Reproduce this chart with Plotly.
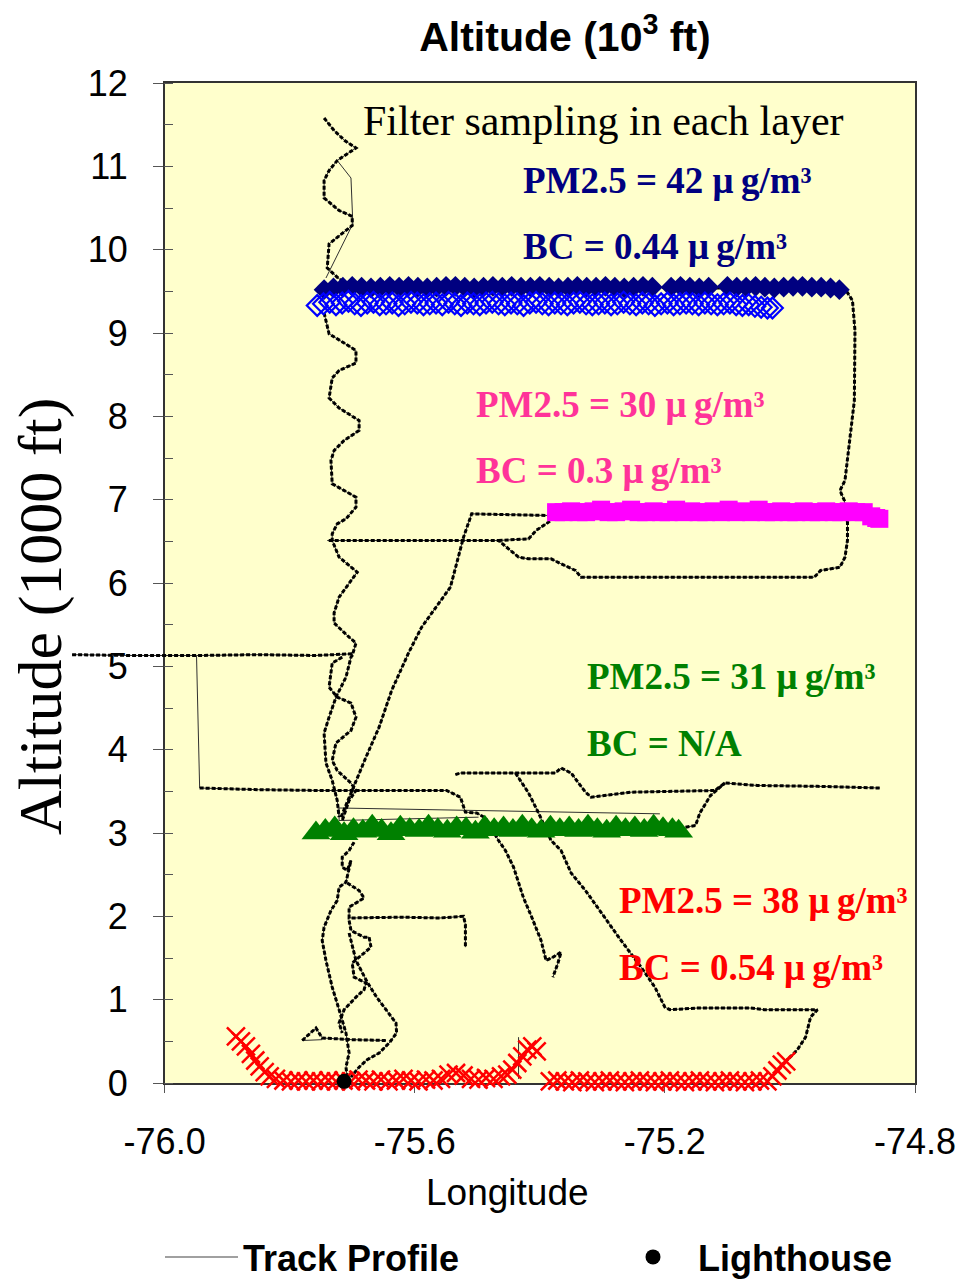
import plotly.graph_objects as go

# ---------------- data ----------------
# Flight track (longitude, altitude in 1000 ft); None separates track pieces
TRACK_LON = [
    -75.745, -75.729, -75.712, -75.694, -75.724, -75.737, -75.745, -75.745, -75.721, -75.700, -75.700, -75.737,
    -75.740, -75.721, -75.702, -74.912, -74.900, -74.896, -74.897, -74.905, -74.912, -74.920, -74.913, -74.908,
    -74.908, -74.912, -74.920, -74.951, -74.961, -75.334, -75.343, -75.366, -75.382, -75.418, -75.434, -75.466,
    -75.740, None,
    -75.466, -75.418, -75.406, -75.386, -75.370, None,
    -75.745, -75.737, -75.713, -75.694, -75.694, -75.721, -75.732, -75.737, -75.721, -75.689, -75.689, -75.713,
    -75.729, -75.734, -75.732, -75.713, -75.694, -75.694, -75.710, -75.724, -75.732, -75.732, -75.721, -75.692,
    -75.702, -75.721, -75.729, -75.729, -75.705, -75.694, -75.700, -75.702, -75.710, -75.726, -75.737, -75.745,
    -75.742, -75.732, -75.724, -75.721, None,
    -75.716, -75.732, -75.737, -75.724, -75.702, -75.694, -75.702, -75.726, -75.732, -75.724, -75.702, -75.694,
    -75.705, -75.716, None,
    -76.148, -76.050, -75.949, -75.850, -75.760, -75.700, None,
    -75.944, -75.850, -75.750, -75.650, -75.549, -75.527, -75.519, -75.501, -75.487, -75.466, -75.455, -75.442,
    -75.426, -75.414, -75.398, -75.390, -75.379, -75.366, -75.371, -75.379, None,
    -75.535, -75.527, -75.439, -75.375, -75.366, -75.350, -75.327, -75.318, -75.254, -75.120, -75.104, -75.052,
    -74.956, -74.856, None,
    -75.439, -75.418, -75.402, -75.382, -75.366, -75.350, -75.327, -75.307, -75.270, -75.238, -75.216, -75.200,
    -75.192, -75.147, -75.063, -75.041, -74.956, -74.967, -74.975, -74.988, -75.001, -75.017, None,
    -75.167, -75.151, -75.144, -75.127, -75.104, None,
    -75.718, -75.702, -75.694, -75.678, -75.657, -75.637, -75.610, -75.589, -75.543, -75.522, -75.509, -75.386, None,
    -75.697, -75.705, -75.716, -75.716, -75.708, -75.702, -75.710, -75.721, -75.724, -75.734, -75.745, -75.748,
    -75.742, -75.732, -75.721, -75.710, -75.705, -75.710, -75.708, None,
    -75.708, -75.689, -75.681, -75.705, -75.705, -75.620, -75.560, -75.522, -75.519, -75.519, None,
    -75.705, -75.702, -75.681, -75.673, -75.670, -75.689, -75.700, -75.697, -75.678, -75.681, -75.694, -75.713,
    -75.721, -75.716, None,
    -75.705, -75.694, -75.676, -75.661, -75.646, -75.630, -75.629, -75.641, -75.657, -75.676, -75.689, -75.702, None,
    -75.780, -75.758, -75.748, -75.700, -75.646,
]
TRACK_ALT = [
    11.58, 11.43, 11.31, 11.22, 11.07, 10.95, 10.83, 10.62, 10.47, 10.40, 10.29, 10.07,
    9.78, 9.65, 9.57, 9.53, 9.39, 9.03, 8.19, 7.71, 7.23, 7.11, 6.99, 6.73,
    6.51, 6.31, 6.19, 6.15, 6.07, 6.07, 6.15, 6.23, 6.29, 6.29, 6.31, 6.51,
    6.51, None,
    6.51, 6.53, 6.63, 6.73, 6.83, None,
    9.24, 8.99, 8.88, 8.79, 8.64, 8.55, 8.46, 8.22, 8.10, 7.95, 7.83, 7.71,
    7.59, 7.47, 7.19, 7.11, 7.03, 6.91, 6.77, 6.71, 6.59, 6.51, 6.31, 6.13,
    6.03, 5.83, 5.64, 5.52, 5.35, 5.28, 5.13, 5.11, 4.87, 4.63, 4.39, 4.20,
    3.84, 3.63, 3.39, 3.19, None,
    5.11, 5.04, 4.75, 4.63, 4.56, 4.39, 4.23, 4.08, 3.87, 3.75, 3.60, 3.51,
    3.39, 3.15, None,
    5.14, 5.13, 5.13, 5.14, 5.13, 5.15, None,
    3.54, 3.52, 3.51, 3.51, 3.51, 3.43, 3.25, 3.24, 3.18, 2.91, 2.79, 2.59,
    2.22, 2.01, 1.71, 1.47, 1.51, 1.57, 1.44, 1.27, None,
    3.70, 3.72, 3.72, 3.72, 3.78, 3.72, 3.49, 3.43, 3.49, 3.51, 3.60, 3.57,
    3.56, 3.54, None,
    3.72, 3.48, 3.24, 2.91, 2.79, 2.52, 2.31, 2.10, 1.71, 1.39, 1.15, 0.91,
    0.88, 0.90, 0.90, 0.88, 0.88, 0.79, 0.55, 0.40, 0.30, 0.19, None,
    3.07, 3.09, 3.24, 3.45, 3.60, None,
    3.19, 3.48, 3.63, 3.91, 4.27, 4.71, 5.16, 5.47, 5.95, 6.55, 6.83, 6.81, None,
    2.89, 2.79, 2.71, 2.59, 2.55, 2.67, 2.41, 2.35, 2.19, 2.07, 1.87, 1.71,
    1.47, 1.15, 0.88, 0.60, 0.36, 0.19, 0.07, None,
    2.40, 2.31, 2.22, 2.11, 1.98, 1.99, 1.98, 2.00, 1.90, 1.63, None,
    1.95, 1.83, 1.75, 1.75, 1.63, 1.51, 1.44, 1.27, 1.20, 1.12, 1.03, 0.88,
    0.72, 0.60, None,
    1.80, 1.47, 1.21, 1.03, 0.88, 0.72, 0.60, 0.48, 0.36, 0.28, 0.19, 0.07, None,
    0.51, 0.66, 0.54, 0.52, 0.51,
]
# fast transitions drawn as plain thin lines
THIN_LON = [-75.724, -75.702, -75.699, -75.742, None, -75.949, -75.944, None,
            -75.721, -75.208, None, -75.721, -75.498, None, -75.721, -75.721, None,
            -75.434, -75.434, None, -75.780, -75.748]
THIN_ALT = [11.07, 10.86, 10.31, 9.66, None, 5.13, 3.54, None,
            3.30, 3.23, None, 3.15, 3.19, None, 3.30, 3.15, None,
            0.55, 0.05, None, 0.51, 0.52]

# PM2.5 / BC filter sampling legs
PM_HI_LON = [-75.745, -75.730, -75.715, -75.700, -75.685, -75.670, -75.655, -75.640, -75.625, -75.610,
             -75.595, -75.580, -75.565, -75.550, -75.535, -75.520, -75.505, -75.490, -75.475, -75.460,
             -75.445, -75.430, -75.415, -75.400, -75.385, -75.370, -75.355, -75.340, -75.325, -75.310,
             -75.295, -75.280, -75.265, -75.250, -75.235, -75.220, -75.190, -75.175, -75.160, -75.145,
             -75.130, -75.100, -75.085, -75.070, -75.055, -75.040, -75.025, -75.010, -74.995, -74.980,
             -74.965, -74.950, -74.935, -74.921]
PM_HI_ALT = [9.52, 9.54, 9.55, 9.56, 9.55, 9.54, 9.55, 9.56, 9.55, 9.56,
             9.55, 9.54, 9.55, 9.56, 9.56, 9.55, 9.54, 9.55, 9.56, 9.55,
             9.56, 9.55, 9.55, 9.56, 9.55, 9.54, 9.55, 9.56, 9.55, 9.55,
             9.56, 9.55, 9.54, 9.55, 9.56, 9.55, 9.55, 9.56, 9.55, 9.54,
             9.55, 9.56, 9.55, 9.55, 9.56, 9.55, 9.54, 9.55, 9.56, 9.56,
             9.55, 9.55, 9.54, 9.52]

BC_HI_LON = [-75.756, -75.746, -75.736, -75.726, -75.716, -75.706, -75.696, -75.686, -75.676, -75.666,
             -75.656, -75.646, -75.636, -75.626, -75.616, -75.606, -75.596, -75.586, -75.576, -75.566,
             -75.556, -75.546, -75.536, -75.526, -75.516, -75.506, -75.496, -75.486, -75.476, -75.466,
             -75.456, -75.446, -75.436, -75.426, -75.416, -75.406, -75.396, -75.386, -75.376, -75.366,
             -75.356, -75.346, -75.336, -75.326, -75.316, -75.306, -75.296, -75.286, -75.276, -75.266,
             -75.256, -75.246, -75.236, -75.226, -75.216, -75.206, -75.196, -75.186, -75.176, -75.166,
             -75.156, -75.146, -75.136, -75.126, -75.116, -75.106, -75.096, -75.086, -75.076, -75.066,
             -75.056, -75.046, -75.036, -75.028]
BC_HI_ALT = [9.33, 9.35, 9.37, 9.34, 9.36, 9.38, 9.35, 9.33, 9.36, 9.37,
             9.34, 9.35, 9.36, 9.33, 9.35, 9.37, 9.36, 9.34, 9.35, 9.36,
             9.34, 9.37, 9.35, 9.33, 9.36, 9.35, 9.34, 9.36, 9.37, 9.35,
             9.34, 9.36, 9.35, 9.33, 9.36, 9.37, 9.35, 9.34, 9.36, 9.35,
             9.34, 9.36, 9.37, 9.35, 9.34, 9.35, 9.36, 9.34, 9.35, 9.37,
             9.35, 9.34, 9.36, 9.35, 9.33, 9.35, 9.36, 9.34, 9.35, 9.36,
             9.35, 9.34, 9.36, 9.35, 9.34, 9.35, 9.36, 9.34, 9.33, 9.34,
             9.32, 9.31, 9.30, 9.30]

PM_MID_LON = [-75.374, -75.362, -75.350, -75.338, -75.326, -75.314, -75.302, -75.290, -75.278, -75.266,
              -75.254, -75.242, -75.230, -75.218, -75.206, -75.194, -75.182, -75.170, -75.158, -75.146,
              -75.134, -75.122, -75.110, -75.098, -75.086, -75.074, -75.062, -75.050, -75.038, -75.026,
              -75.014, -75.002, -74.990, -74.978, -74.966, -74.954, -74.942, -74.930, -74.918, -74.906,
              -74.894, -74.882, -74.870, -74.862, -74.857]
PM_MID_ALT = [6.85, 6.85, 6.86, 6.85, 6.85, 6.86, 6.88, 6.85, 6.85, 6.86,
              6.88, 6.85, 6.85, 6.86, 6.85, 6.85, 6.88, 6.85, 6.86, 6.85,
              6.85, 6.86, 6.85, 6.88, 6.85, 6.86, 6.85, 6.88, 6.85, 6.85,
              6.86, 6.85, 6.85, 6.86, 6.85, 6.85, 6.86, 6.85, 6.85, 6.86,
              6.85, 6.85, 6.80, 6.78, 6.77]

PM_LOW_LON = [-75.758, -75.743, -75.728, -75.713, -75.698, -75.683, -75.668, -75.653, -75.638, -75.623,
              -75.608, -75.593, -75.578, -75.563, -75.548, -75.533, -75.518, -75.503, -75.488, -75.473,
              -75.458, -75.443, -75.428, -75.413, -75.398, -75.383, -75.368, -75.353, -75.338, -75.323,
              -75.308, -75.293, -75.278, -75.263, -75.248, -75.233, -75.218, -75.203, -75.188, -75.178]
PM_LOW_ALT = [3.00, 3.03, 3.06, 2.99, 3.04, 3.02, 3.08, 3.03, 2.99, 3.07,
              3.04, 3.03, 3.08, 3.04, 3.02, 3.06, 3.05, 3.01, 3.07, 3.04,
              3.06, 3.03, 3.08, 3.04, 3.02, 3.07, 3.04, 3.06, 3.03, 3.08,
              3.04, 3.02, 3.07, 3.04, 3.06, 3.03, 3.08, 3.05, 3.04, 3.02]

PM_SFC_LON = [-75.886, -75.878, -75.870, -75.862, -75.855, -75.848, -75.840, -75.832, -75.822, -75.810,
              -75.798, -75.786, -75.774, -75.762, -75.750, -75.738, -75.726, -75.714, -75.702, -75.690,
              -75.678, -75.666, -75.654, -75.642, -75.630, -75.618, -75.606, -75.594, -75.582, -75.570,
              -75.558, -75.546, -75.534, -75.522, -75.510, -75.498, -75.486, -75.474, -75.462, -75.452,
              -75.444, -75.436, -75.428, -75.420, -75.412, -75.405,
              None,
              -75.384, -75.372, -75.360, -75.348, -75.336, -75.324, -75.312, -75.300, -75.288, -75.276,
              -75.264, -75.252, -75.240, -75.228, -75.216, -75.204, -75.192, -75.180, -75.168, -75.156,
              -75.144, -75.132, -75.120, -75.108, -75.096, -75.084, -75.072, -75.060, -75.048, -75.036,
              -75.028, -75.020, -75.013, -75.006]
PM_SFC_ALT = [0.56, 0.50, 0.44, 0.35, 0.27, 0.20, 0.13, 0.08, 0.05, 0.03,
              0.02, 0.03, 0.02, 0.03, 0.02, 0.03, 0.02, 0.03, 0.02, 0.04,
              0.03, 0.02, 0.04, 0.02, 0.03, 0.05, 0.03, 0.02, 0.04, 0.03,
              0.05, 0.10, 0.12, 0.09, 0.05, 0.04, 0.06, 0.05, 0.08, 0.10,
              0.16, 0.24, 0.32, 0.40, 0.44, 0.38,
              None,
              0.02, 0.03, 0.02, 0.01, 0.03, 0.02, 0.01, 0.02, 0.03, 0.02,
              0.01, 0.02, 0.03, 0.02, 0.01, 0.02, 0.03, 0.02, 0.01, 0.02,
              0.03, 0.02, 0.01, 0.02, 0.03, 0.02, 0.01, 0.02, 0.03, 0.02,
              0.08, 0.15, 0.22, 0.26]

LIGHTHOUSE_LON = [-75.713]
LIGHTHOUSE_ALT = [0.02]

X_TICK_VALS = [-76.0, -75.6, -75.2, -74.8]
X_TICK_TEXT = ["-76.0", "-75.6", "-75.2", "-74.8"]

# layer labels: (lon, alt, text, colour)
LABELS = [
    (-75.4295, 10.83, "PM2.5 = 42 \u03bc\u2009g/m\u00b3", "#000080"),
    (-75.4295, 10.04, "BC = 0.44 \u03bc\u2009g/m\u00b3", "#000080"),
    (-75.506, 8.14, "PM2.5 = 30 \u03bc\u2009g/m\u00b3", "#FF3399"),
    (-75.506, 7.35, "BC = 0.3 \u03bc\u2009g/m\u00b3", "#FF3399"),
    (-75.3275, 4.88, "PM2.5 = 31 \u03bc\u2009g/m\u00b3", "#008000"),
    (-75.3275, 4.08, "BC = N/A", "#008000"),
    (-75.2765, 2.19, "PM2.5 = 38 \u03bc\u2009g/m\u00b3", "#FF0000"),
    (-75.2765, 1.39, "BC = 0.54 \u03bc\u2009g/m\u00b3", "#FF0000"),
]

SANS = "Liberation Sans, Arial, sans-serif"
SERIF = "Liberation Serif, Times New Roman, serif"

fig = go.Figure()

# track (thin underlying line + dotted heavy overlay)
fig.add_trace(go.Scatter(x=THIN_LON, y=THIN_ALT, xaxis="x2", yaxis="y", mode="lines",
                         line=dict(color="#303030", width=1), showlegend=False, hoverinfo="skip"))
fig.add_trace(go.Scatter(x=TRACK_LON, y=TRACK_ALT, xaxis="x2", yaxis="y", mode="lines",
                         line=dict(color="#303030", width=1), showlegend=False, hoverinfo="skip"))
fig.add_trace(go.Scatter(x=TRACK_LON, y=TRACK_ALT, xaxis="x2", yaxis="y", mode="lines",
                         line=dict(color="black", width=3, dash="4px,2px"), showlegend=False,
                         hoverinfo="skip"))

# sampling legs
fig.add_trace(go.Scatter(x=PM_SFC_LON, y=PM_SFC_ALT, xaxis="x2", yaxis="y", mode="markers",
                         marker=dict(symbol="x-thin-open", size=18, color="#FF0000",
                                     line=dict(color="#FF0000", width=2.5)),
                         cliponaxis=False, showlegend=False))
fig.add_trace(go.Scatter(x=PM_LOW_LON, y=PM_LOW_ALT, xaxis="x2", yaxis="y", mode="markers",
                         marker=dict(symbol="triangle-up", size=25, color="#008000",
                                     line=dict(width=0)),
                         showlegend=False))
fig.add_trace(go.Scatter(x=PM_MID_LON, y=PM_MID_ALT, xaxis="x2", yaxis="y", mode="markers",
                         marker=dict(symbol="square", size=18, color="#FF00FF", line=dict(width=0)),
                         showlegend=False))
fig.add_trace(go.Scatter(x=PM_HI_LON, y=PM_HI_ALT, xaxis="x2", yaxis="y", mode="markers",
                         marker=dict(symbol="diamond", size=16, color="#000080", line=dict(width=0)),
                         showlegend=False))
fig.add_trace(go.Scatter(x=BC_HI_LON, y=BC_HI_ALT, xaxis="x2", yaxis="y", mode="markers",
                         marker=dict(symbol="diamond-open", size=16, color="#0000FF",
                                     line=dict(color="#0000FF", width=2.2)),
                         showlegend=False))

# legend entries (two separate legends, as in the original layout)
fig.add_trace(go.Scatter(x=[None], y=[None], xaxis="x2", yaxis="y", mode="lines",
                         line=dict(color="#808080", width=1.5), name="Track Profile", legend="legend"))
fig.add_trace(go.Scatter(x=LIGHTHOUSE_LON, y=LIGHTHOUSE_ALT, xaxis="x2", yaxis="y", mode="markers",
                         marker=dict(symbol="circle", size=15, color="black"),
                         cliponaxis=False, name="Lighthouse", legend="legend2"))

annotations = [dict(x=lon, y=alt, xref="x", yref="y", text="<b>%s</b>" % txt, showarrow=False,
                    xanchor="left", yanchor="middle",
                    font=dict(family=SERIF, size=37, color=col))
               for lon, alt, txt, col in LABELS]
annotations.append(dict(x=-75.686, y=11.55, xref="x", yref="y", text="Filter sampling in each layer",
                        showarrow=False, xanchor="left", yanchor="middle",
                        font=dict(family=SERIF, size=42, color="black")))
# y-axis title
annotations.append(dict(x=-20 / 858, y=466 / 1000, xref="paper", yref="paper", text="Altitude (1000 ft)",
                        textangle=-90, showarrow=False, xanchor="center", yanchor="middle",
                        font=dict(family=SERIF, size=62, color="black")))
# x-axis title
annotations.append(dict(x=449 / 858, y=-109 / 1000, xref="paper", yref="paper", text="Longitude",
                        showarrow=False, xanchor="center", yanchor="middle",
                        font=dict(family=SANS, size=37, color="black")))

legend_font = dict(family=SANS, size=36, color="black", weight="bold")

fig.update_layout(
    width=968, height=1283,
    margin=dict(l=60, r=50, t=83, b=200, pad=0),
    paper_bgcolor="white",
    plot_bgcolor="rgba(0,0,0,0)",
    title=dict(text="<b>Altitude (10<sup>3</sup> ft)</b>", x=565 / 968, xref="container", xanchor="center",
               y=1 - 37 / 1283, yref="container", yanchor="middle",
               font=dict(family=SANS, size=41, color="black")),
    xaxis=dict(domain=[105 / 858, 1], range=[-76.0, -74.8], anchor="y",
               tickvals=X_TICK_VALS, ticktext=X_TICK_TEXT,
               ticks="outside", ticklen=8, tickcolor="#555", tickwidth=1,
               showline=True, linecolor="#333", linewidth=1.5, mirror=True,
               showgrid=False, zeroline=False, ticklabelstandoff=18,
               tickfont=dict(family=SANS, size=36, color="black")),
    xaxis2=dict(domain=[0, 1], range=[-76.0 - 105 / 627.5, -74.8], anchor="y", visible=False,
                showgrid=False, zeroline=False),
    yaxis=dict(domain=[0, 1], range=[0, 12], anchor="x", dtick=1, tick0=0,
               ticks="outside", ticklen=10, tickcolor="#555", tickwidth=1,
               minor=dict(dtick=0.5, ticks="inside", ticklen=9, tickcolor="#555", showgrid=False),
               showline=True, linecolor="#333", linewidth=1.5, mirror=True,
               showgrid=False, zeroline=False, ticklabelstandoff=18,
               tickfont=dict(family=SANS, size=36, color="black")),
    shapes=[dict(type="rect", xref="x", yref="y", x0=-76.0, x1=-74.8, y0=0, y1=12,
                 fillcolor="#FFFFCC", line=dict(width=0), layer="below")],
    annotations=annotations,
    legend=dict(orientation="h", x=160 / 968, xref="container", y=26 / 1283, yref="container",
                xanchor="left", yanchor="middle", font=legend_font, itemwidth=73,
                bgcolor="rgba(0,0,0,0)"),
    legend2=dict(orientation="h", x=608 / 968, xref="container", y=26 / 1283, yref="container",
                 xanchor="left", yanchor="middle", font=legend_font, itemwidth=80,
                 bgcolor="rgba(0,0,0,0)"),
    showlegend=True,
)

fig.write_html("out.html")
